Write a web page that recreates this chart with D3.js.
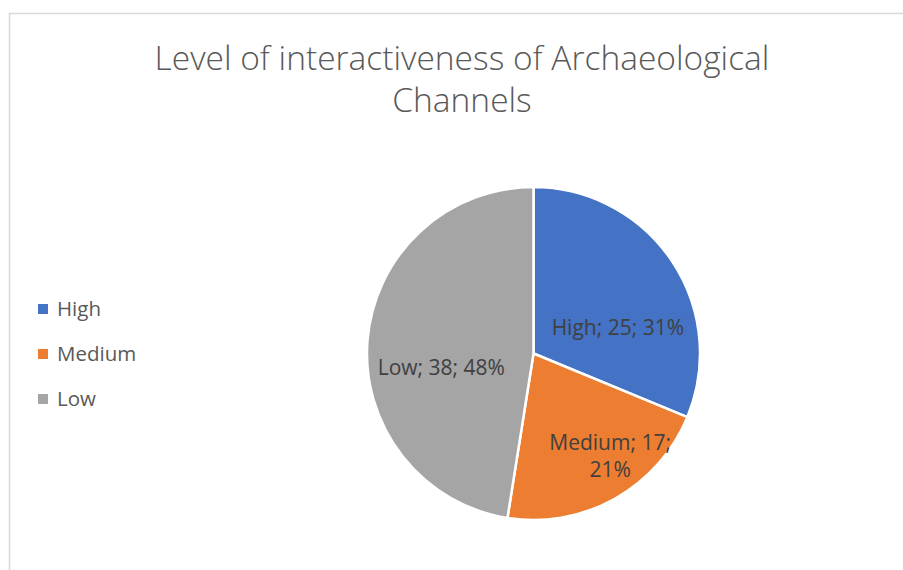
<!DOCTYPE html>
<html><head><meta charset="utf-8">
<script src="https://cdn.jsdelivr.net/npm/d3@7"></script>
<style>
html,body{margin:0;padding:0;background:#fff;}
svg text{font-family:"Open Sans","Noto Sans",sans-serif;}
</style></head>
<body><svg id="c" width="903" height="570"></svg>
<script>
const categories = ["High", "Medium", "Low"];
const values = [25, 17, 38];
const colors = ["#4472C4", "#ED7D31", "#A5A5A5"];
const titleLines = ["Level of interactiveness of Archaeological", "Channels"];

const svg = d3.select("#c");
const W = 903, H = 570;
svg.append("rect").attr("width", W).attr("height", H).attr("fill", "#fff");
// chart border
svg.append("path").attr("d", `M9.5,${H+2} V13.5 H${W+2}`).attr("fill", "none")
  .attr("stroke", "#d9d9d9").attr("stroke-width", 1.5);

// title
svg.append("text").attr("x", 462).attr("text-anchor", "middle")
  .attr("fill", "#595959").style("font-size", "33.5px").style("font-weight", 300)
  .selectAll("tspan").data(titleLines).join("tspan")
  .attr("x", 462).attr("y", (d, i) => 70 + i * 42).text(d => d);

const cx = 533.5, cy = 353.5, R = 166.5;
const total = d3.sum(values);
const pie = d3.pie().sort(null).value(d => d.v);
const data = categories.map((c, i) => ({c, v: values[i], col: colors[i]}));
const arcs = pie(data);
const arc = d3.arc().innerRadius(0).outerRadius(R);
const g = svg.append("g").attr("transform", `translate(${cx},${cy})`);
g.selectAll("path").data(arcs).join("path")
  .attr("d", arc).attr("fill", d => d.data.col)
  .attr("stroke", "#fff").attr("stroke-width", 2.5).attr("stroke-linejoin", "round");

// labels (best-fit style placement: radius fraction and angular nudge per slice)
const labelLayout = [{rf: 0.53, da: 0.29}, {rf: 0.77, da: -0.13}, {rf: 0.56, da: -0.23}];
const fmtPct = v => Math.round(v / total * 100) + "%";
g.selectAll("text.lbl").data(arcs).join("text").attr("class", "lbl")
  .attr("text-anchor", "middle").attr("fill", "#404040").style("font-size", "21px")
  .each(function(d, i) {
    const L = labelLayout[i];
    const a = (d.startAngle + d.endAngle) / 2 + L.da;
    const r = R * L.rf;
    const x = Math.sin(a) * r, y = -Math.cos(a) * r;
    const full = `${d.data.c}; ${d.data.v}; ${fmtPct(d.data.v)}`;
    const lines = d.data.c === "Medium" ? [`${d.data.c}; ${d.data.v};`, fmtPct(d.data.v)] : [full];
    const t = d3.select(this);
    lines.forEach((ln, k) => {
      t.append("tspan").attr("x", x)
        .attr("y", y + 7 + (k - (lines.length - 1) / 2) * 27).text(ln);
    });
  });

// legend
const lg = svg.append("g");
const ly0 = 309, lstep = 45;
lg.selectAll("rect").data(data).join("rect")
  .attr("x", 38).attr("y", (d, i) => ly0 + i * lstep - 5).attr("width", 10).attr("height", 10)
  .attr("fill", d => d.col);
lg.selectAll("text").data(data).join("text")
  .attr("x", 57).attr("y", (d, i) => ly0 + i * lstep + 7)
  .attr("fill", "#595959").style("font-size", "20.5px").text(d => d.c);
</script></body></html>
